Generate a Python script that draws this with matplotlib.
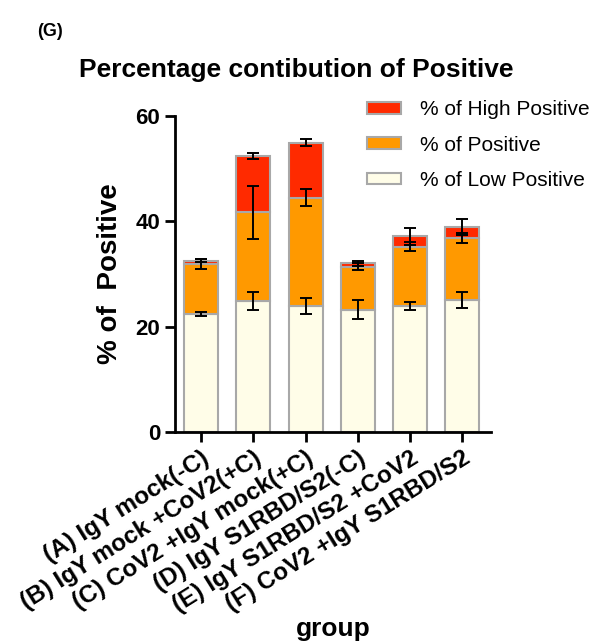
import numpy as np
import matplotlib.pyplot as plt

plt.rcParams['font.family'] = ['Liberation Sans', 'DejaVu Sans']

groups = ['(A) IgY mock(-C)', '(B) IgY mock +CoV2(+C)', '(C) CoV2 +IgY mock(+C)',
          '(D) IgY S1RBD/S2(-C)', '(E) IgY S1RBD/S2 +CoV2', '(F) CoV2 +IgY S1RBD/S2']

low = [22.4, 24.9, 24.0, 23.2, 23.9, 25.0]
low_err = [0.3, 1.7, 1.5, 1.8, 0.7, 1.5]
pos = [9.5, 16.8, 20.5, 8.2, 11.3, 11.8]
pos_err = [1.0, 5.0, 1.6, 0.7, 0.8, 1.0]
high = [0.6, 10.7, 10.4, 0.6, 2.0, 2.1]
high_err = [0.3, 0.5, 0.7, 0.5, 1.6, 1.5]

c_high = '#ff2a00'
c_pos = '#ff9900'
c_low = '#fffde8'

fig = plt.figure(figsize=(5.91, 6.44), dpi=100)
ax = fig.add_axes([0.296, 0.329, 0.535, 0.491])

x = np.arange(len(groups))
w = 0.65
low = np.array(low)
pos = np.array(pos)
high = np.array(high)

ax.bar(x, low, w, color=c_low, edgecolor='#a8a8a8', linewidth=1.5, label='% of Low Positive')
ax.bar(x, pos, w, bottom=low, color=c_pos, edgecolor='#a8a8a8', linewidth=1.5, label='% of Positive')
ax.bar(x, high, w, bottom=low + pos, color=c_high, edgecolor='#a8a8a8', linewidth=1.5,
       label='% of High Positive')

ek = dict(fmt='none', ecolor='black', elinewidth=1.4, capsize=4, capthick=1.4)
ax.errorbar(x, low, yerr=low_err, **ek)
ax.errorbar(x, low + pos, yerr=pos_err, **ek)
ax.errorbar(x, low + pos + high, yerr=high_err, **ek)

ax.set_xlim(-0.5, 5.55)
ax.set_ylim(0, 60)
ax.set_yticks([0, 20, 40, 60])
ax.spines['top'].set_visible(False)
ax.spines['right'].set_visible(False)
ax.spines['left'].set_linewidth(2)
ax.spines['bottom'].set_linewidth(2)
ax.tick_params(axis='both', width=2, length=7)
ax.tick_params(axis='y', labelsize=16)
for t in ax.get_yticklabels():
    t.set_fontweight('bold')
ax.set_xticks(x)
ax.set_xticklabels(groups, rotation=32, ha='right', rotation_mode='anchor',
                   fontsize=17.5, fontweight='bold')

ax.set_ylabel('% of  Positive', fontsize=20, fontweight='bold', labelpad=9)
fig.text(0.564, 0.012, 'group', fontsize=19, fontweight='bold', ha='center')
fig.text(0.502, 0.880, 'Percentage contibution of Positive', fontsize=19,
         fontweight='bold', ha='center')
fig.text(0.062, 0.944, '(G)', fontsize=13, fontweight='bold')

h, l = ax.get_legend_handles_labels()
ax.legend(h[::-1], l[::-1], loc='upper left', bbox_to_anchor=(0.607, 0.857),
          bbox_transform=fig.transFigure, borderaxespad=0,
          frameon=False, fontsize=15, handlelength=1.65, handleheight=0.5,
          labelspacing=0.78, handletextpad=0.9)

fig.savefig('out.png', dpi=100)
